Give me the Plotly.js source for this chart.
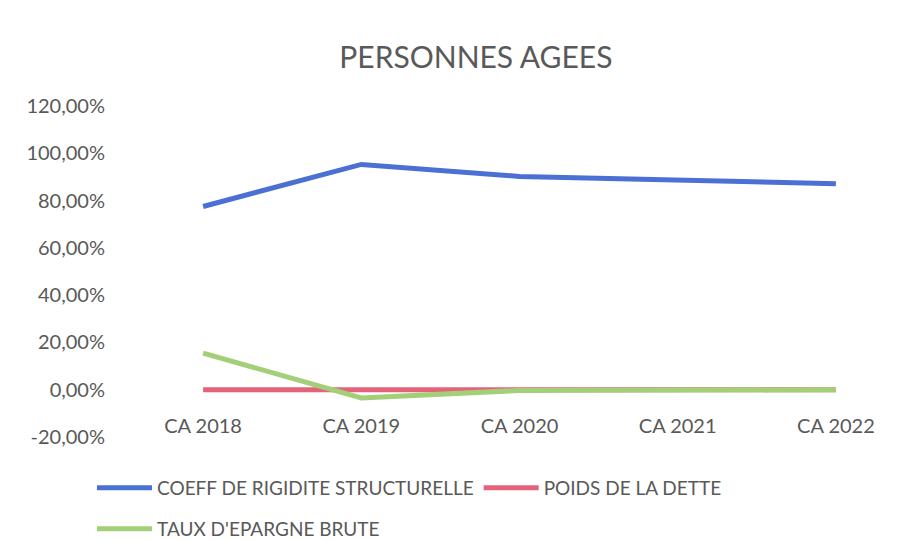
<!DOCTYPE html>
<html>
<head>
<meta charset="utf-8">
<script src="https://cdn.plot.ly/plotly-3.0.1.min.js"></script>
<style>html,body{margin:0;padding:0;background:#fff;}#chart{width:924px;height:540px;}</style>
</head>
<body>
<div id="chart"></div>
<script>
const categories = ["CA 2018", "CA 2019", "CA 2020", "CA 2021", "CA 2022"];
const coeffRigidite = [0.775, 0.953, 0.902, 0.888, 0.871];
const poidsDette = [0.0, 0.0, 0.0, 0.0, 0.0];
const tauxEpargne = [0.155, -0.035, -0.003, -0.001, 0.0];
const seriesNames = ["COEFF DE RIGIDITE STRUCTURELLE", "POIDS DE LA DETTE", "TAUX D'EPARGNE BRUTE"];
const yTickVals = [-0.2, 0, 0.2, 0.4, 0.6, 0.8, 1.0, 1.2];
const yTickText = ["-20,00%", "0,00%", "20,00%", "40,00%", "60,00%", "80,00%", "100,00%", "120,00%"];

const FONT = "Lato, 'Open Sans', sans-serif";
const GREY = "#595959";

const traces = [
  {x: categories, y: coeffRigidite, name: seriesNames[0], type: "scatter", mode: "lines",
   line: {color: "#4a70d4", width: 5}, legend: "legend"},
  {x: categories, y: poidsDette, name: seriesNames[1], type: "scatter", mode: "lines",
   line: {color: "#e5637a", width: 5}, legend: "legend"},
  {x: categories, y: tauxEpargne, name: seriesNames[2], type: "scatter", mode: "lines",
   line: {color: "#a3cf78", width: 5}, legend: "legend2"}
];

const layout = {
  width: 924, height: 540,
  paper_bgcolor: "#ffffff", plot_bgcolor: "#ffffff",
  margin: {l: 124, r: 9, t: 106, b: 103},
  font: {family: FONT, color: GREY, size: 19},
  title: {text: "PERSONNES AGEES", font: {family: FONT, size: 30, color: GREY},
          x: 0.515, xanchor: "center", y: 1 - 57/540, yanchor: "middle", xref: "container", yref: "container"},
  xaxis: {type: "category", range: [-0.5, 4.5], showgrid: false, zeroline: false, showline: false,
          anchor: "free", position: 20/140, ticks: "outside", ticklen: 18, tickcolor: "rgba(0,0,0,0)",
          tickfont: {family: FONT, size: 20, color: GREY}},
  yaxis: {range: [-0.2, 1.2], tickvals: yTickVals, ticktext: yTickText, showgrid: false, zeroline: false,
          showline: false, ticks: "outside", ticklen: 14, tickcolor: "rgba(0,0,0,0)",
          tickfont: {family: FONT, size: 20, color: GREY}},
  showlegend: true,
  legend: {orientation: "h", xref: "container", yref: "container", x: 92/924, y: 1 - 488/540,
           xanchor: "left", yanchor: "middle", font: {family: FONT, size: 19, color: GREY},
           itemwidth: 55, bgcolor: "rgba(0,0,0,0)", tracegroupgap: 0},
  legend2: {orientation: "h", xref: "container", yref: "container", x: 92/924, y: 1 - 529/540,
           xanchor: "left", yanchor: "middle", font: {family: FONT, size: 19, color: GREY},
           itemwidth: 55, bgcolor: "rgba(0,0,0,0)"}
};

Plotly.newPlot("chart", traces, layout, {displayModeBar: false, staticPlot: true});
</script>
</body>
</html>
